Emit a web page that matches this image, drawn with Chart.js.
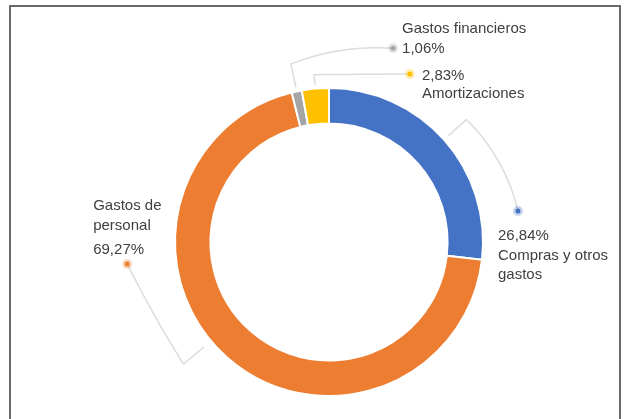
<!DOCTYPE html>
<html lang="es">
<head>
<meta charset="UTF-8">
<title>Distribución de gastos</title>
<script src="https://cdn.jsdelivr.net/npm/chart.js@4.4.1/dist/chart.umd.min.js"></script>
<style>
body {
    margin: 0;
    background: #fff;
    width: 627px;
    height: 419px;
    overflow: hidden;
    position: relative;
}
.frame {
    position: absolute;
    left: 9px;
    top: 5px;
    width: 608px;
    height: 430px;
    border: 2px solid #6a6a6a;
    border-bottom: none;
}
canvas {
    position: absolute;
    left: 0;
    top: 0;
}
</style>
</head>
<body>
<div class="frame"></div>
<canvas id="chart" width="627" height="419"></canvas>
<script>
// data
const categoryLines = [['Compras y otros', 'gastos'], ['Gastos de', 'personal'], ['Gastos financieros'], ['Amortizaciones']];
const categories = categoryLines.map(l => l.join(' '));
const values = [26.84, 69.27, 1.06, 2.83];
const colors = ['#4472C4', '#ED7D31', '#A5A5A5', '#FFC000'];

function fmt(v) {
    return v.toFixed(2).replace('.', ',') + '%';
}

// callout layout: angles in degrees clockwise from top, radii in px from the centre
const callouts = [
    {angleShift: 0, r0: 160, r1: 184, dotAngle: 80.7, dotR: 191.5, bend: 1, valueFirst: true,
     tx: -20, baselines: [29, 49, 68]},
    {angleShift: 8.7, r0: 163, r1: 190, dotAngle: 263.8, dotR: 203, bend: 0.15, valueFirst: false,
     tx: -34, baselines: [-54, -34, -10]},
    {angleShift: 0, r0: 158, r1: 182, dotAngle: 18.3, dotR: 204, bend: 0.8, valueFirst: false,
     tx: 9, baselines: [-15, 5]},
    {angleShift: 0, r0: 158, r1: 168, dotAngle: 25.7, dotR: 186.5, bend: 0, valueFirst: true,
     tx: 12, baselines: [6, 24]}
];

const calloutPlugin = {
    id: 'callouts',
    afterDraw(chart) {
        const ctx = chart.ctx;
        const meta = chart.getDatasetMeta(0);
        meta.data.forEach((arc, i) => {
            const c = callouts[i];
            const p = arc.getProps(['x', 'y', 'startAngle', 'endAngle'], true);
            const cx = p.x, cy = p.y;
            const pt = (deg, r) => {
                const a = deg * Math.PI / 180 - Math.PI / 2;
                return [cx + r * Math.cos(a), cy + r * Math.sin(a)];
            };
            let aMid = ((p.startAngle + p.endAngle) / 2 + Math.PI / 2) * 180 / Math.PI + c.angleShift;
            let aDot = c.dotAngle;
            while (aDot - aMid > 180) aDot -= 360;
            while (aMid - aDot > 180) aDot += 360;

            // leader line
            ctx.save();
            ctx.strokeStyle = '#dcdcdc';
            ctx.lineWidth = 1.5;
            ctx.lineJoin = 'round';
            ctx.beginPath();
            const s = pt(aMid, c.r0);
            ctx.moveTo(s[0], s[1]);
            const A = pt(aMid, c.r1);
            const B = pt(aDot, c.dotR);
            const steps = 40;
            for (let k = 0; k <= steps; k++) {
                const t = k / steps;
                const sp = pt(aMid + (aDot - aMid) * t, c.r1 + (c.dotR - c.r1) * t);
                const lx = A[0] + (B[0] - A[0]) * t;
                const ly = A[1] + (B[1] - A[1]) * t;
                ctx.lineTo(lx + c.bend * (sp[0] - lx), ly + c.bend * (sp[1] - ly));
            }
            ctx.stroke();

            // dot
            const col = colors[i];
            ctx.globalAlpha = 0.3;
            ctx.fillStyle = col;
            ctx.beginPath();
            ctx.arc(B[0], B[1], 5, 0, Math.PI * 2);
            ctx.fill();
            ctx.globalAlpha = 1;
            ctx.beginPath();
            ctx.arc(B[0], B[1], 2.5, 0, Math.PI * 2);
            ctx.fill();

            // text
            const lines = c.valueFirst ? [fmt(values[i])].concat(categoryLines[i])
                                       : categoryLines[i].concat([fmt(values[i])]);
            ctx.fillStyle = '#404040';
            ctx.font = '15px "Liberation Sans", Arial, sans-serif';
            ctx.textAlign = 'left';
            ctx.textBaseline = 'alphabetic';
            lines.forEach((ln, j) => {
                ctx.fillText(ln, B[0] + c.tx, B[1] + c.baselines[j]);
            });
            ctx.restore();
        });
    }
};

new Chart(document.getElementById('chart'), {
    type: 'doughnut',
    data: {
        labels: categories,
        datasets: [{
            data: values,
            backgroundColor: colors,
            borderColor: '#ffffff',
            borderWidth: 2
        }]
    },
    options: {
        responsive: false,
        animation: false,
        cutout: '77%',
        layout: {padding: {left: 174, right: 143, top: 87, bottom: 22}},
        plugins: {
            legend: {display: false},
            tooltip: {enabled: false}
        }
    },
    plugins: [calloutPlugin]
});
</script>
</body>
</html>
